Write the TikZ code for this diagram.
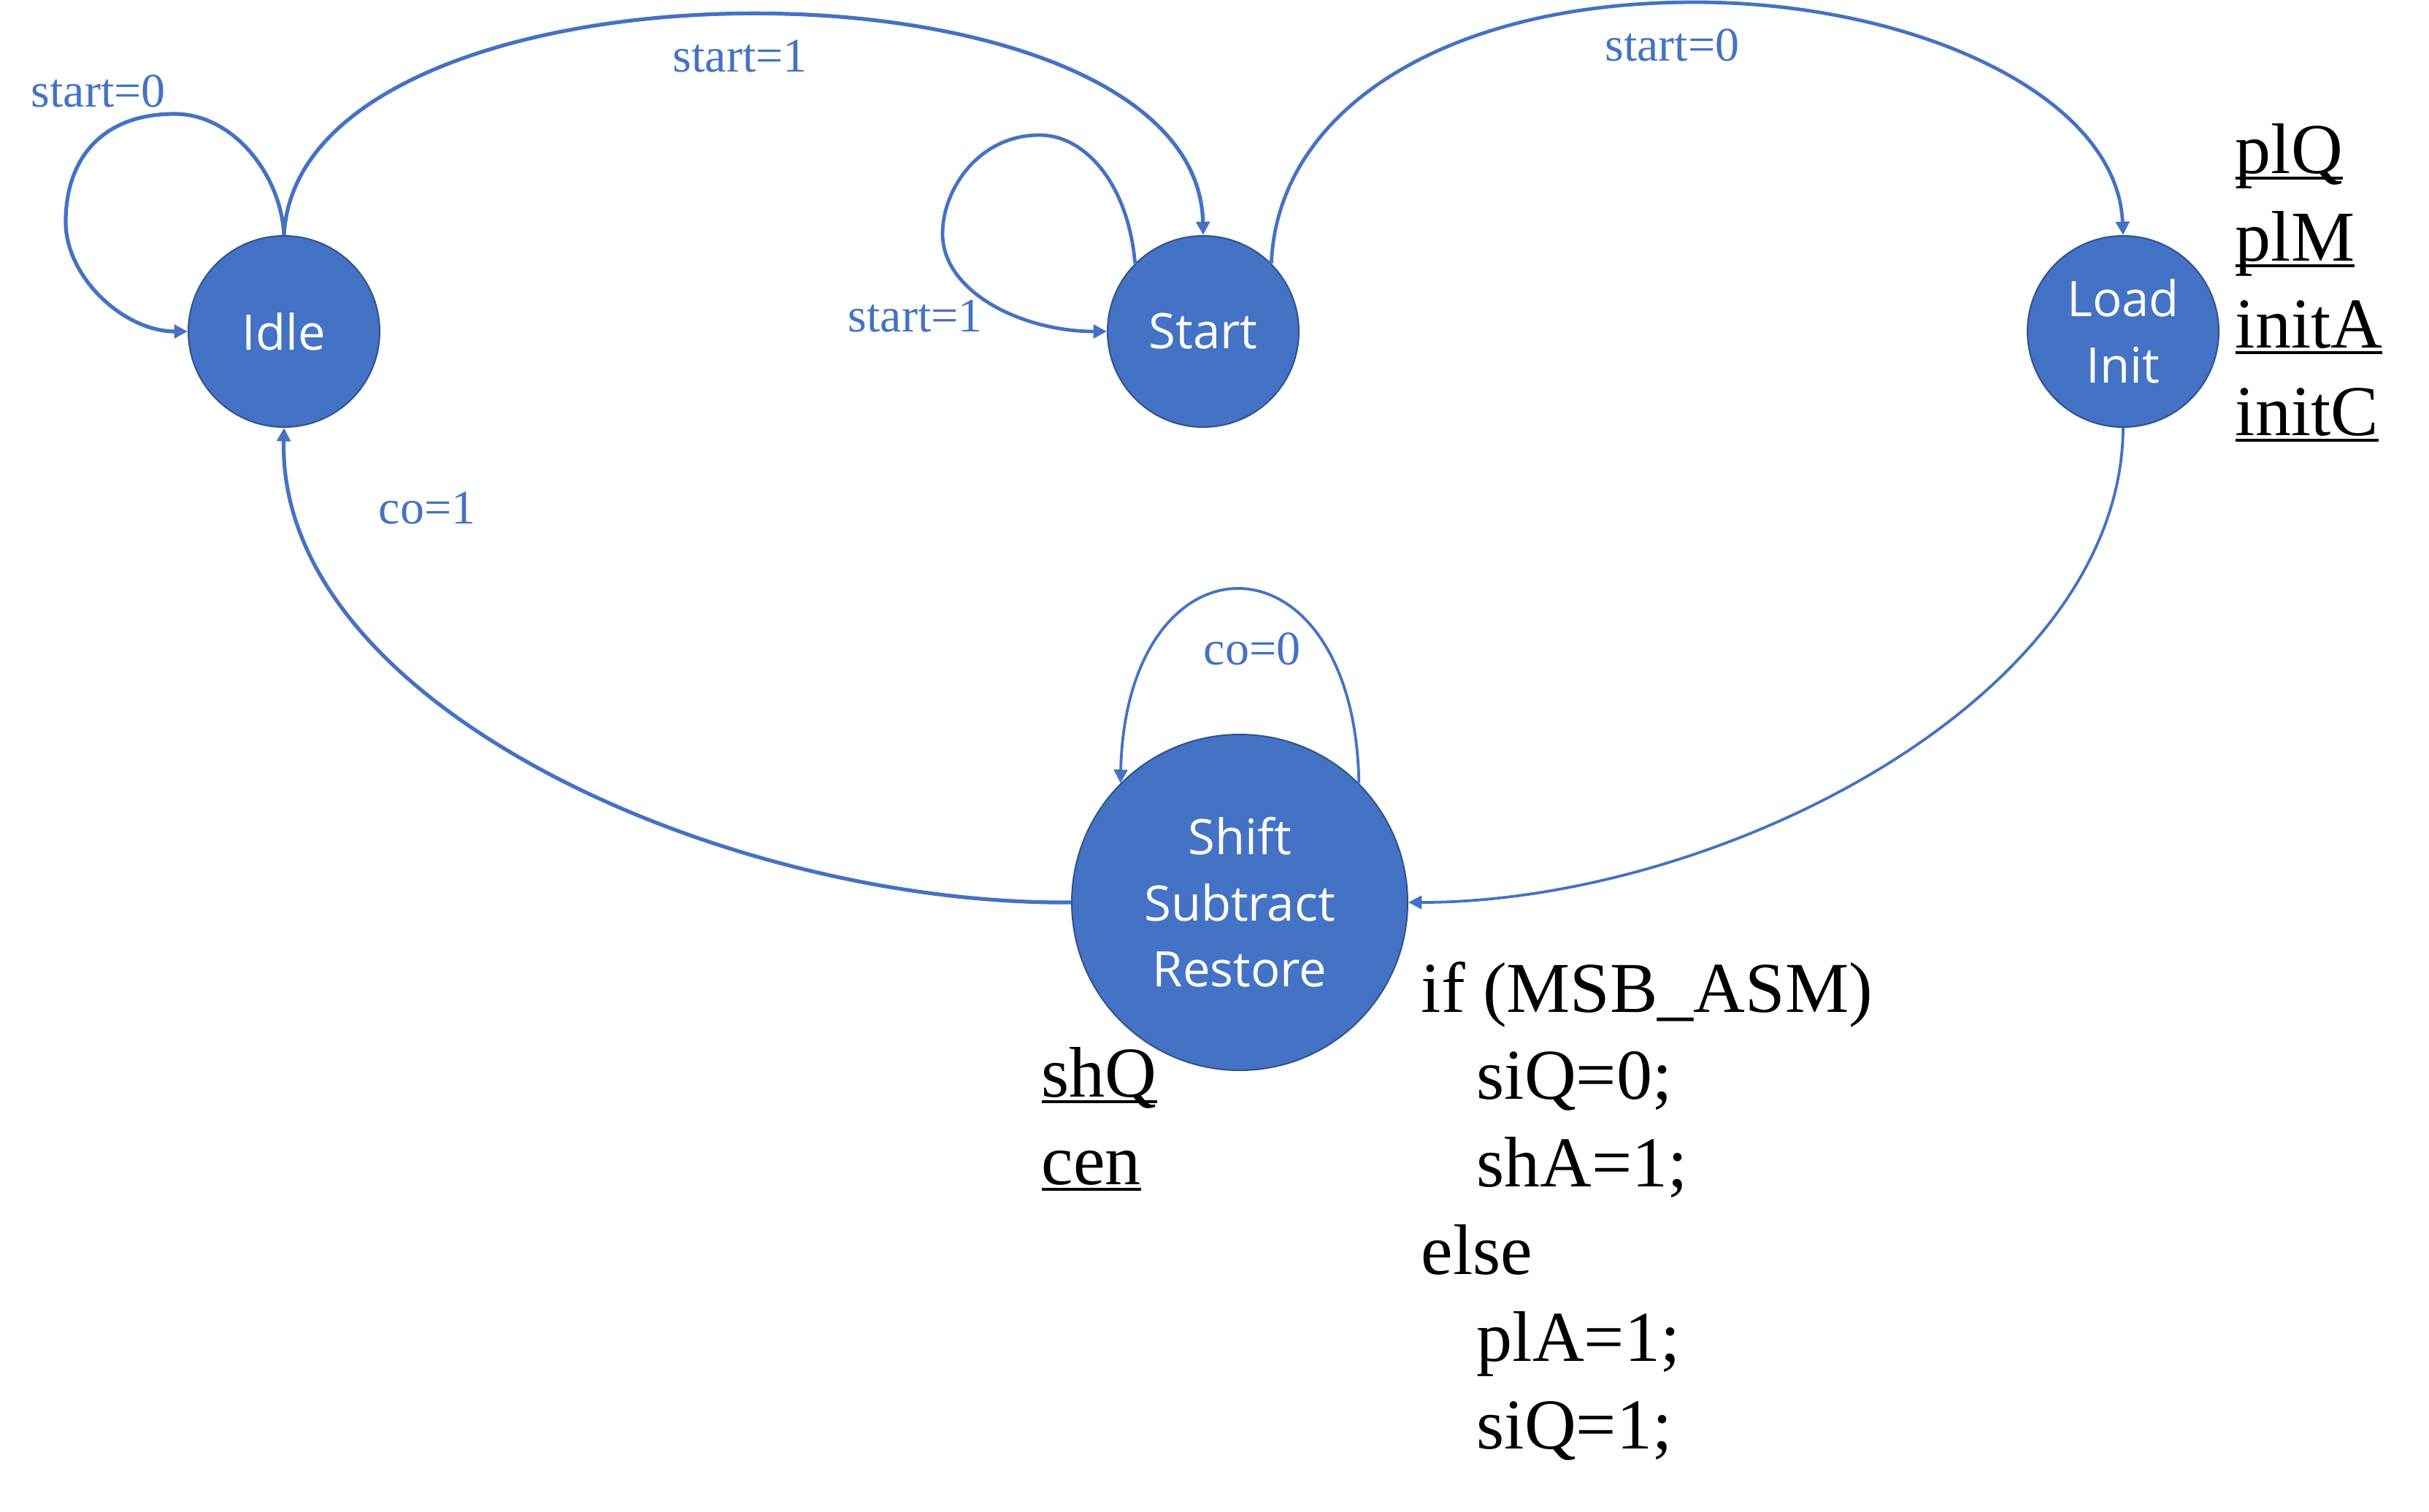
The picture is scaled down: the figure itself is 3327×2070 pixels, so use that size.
\documentclass[tikz,border=0pt]{standalone}
\usepackage{fontspec}
\setmainfont{Liberation Serif}
\newfontfamily\statefont{Open Sans}
\usetikzlibrary{arrows.meta}
\definecolor{ofblue}{HTML}{4472C4}
\definecolor{ofdark}{HTML}{2F528F}
\newcommand\myul[1]{\setbox0\hbox{#1}\rlap{\rule[-2.3pt]{\wd0}{1.1pt}}\box0}
\begin{document}
\begin{tikzpicture}[x=0.25pt,y=-0.25pt,
  state/.style={circle, fill=ofblue, draw=ofdark, line width=0.5pt, inner sep=0pt,
    text=white, font=\statefont\fontsize{16.75}{22.6}\selectfont, align=center},
  edge/.style={draw=ofblue, line width=1.3pt, -{Triangle[length=4.6pt,width=4.6pt]}},
  lbl/.style={text=ofblue, font=\fontsize{16.5}{20}\selectfont, inner sep=0pt, anchor=base west},
  outtxt/.style={font=\fontsize{24.5}{30}\selectfont, inner sep=0pt, anchor=base west}]
\useasboundingbox (0,0) rectangle (3327,2070);

% states
\node[state, minimum size=65.5pt] (idle) at (389,454) {Idle};
\node[state, minimum size=65.5pt] (start) at (1648,454) {Start};
\node[state, minimum size=65.5pt] (load) at (2908,454) {Load\\Init};
\node[state, minimum size=115pt] (shift) at (1698,1236) {Shift\\Subtract\\Restore};

% edges
\draw[edge] (idle.north) .. controls (385,240) and (320,156) .. (239,156)
  .. controls (142,156) and (90,215) .. (90,304)
  .. controls (90,380) and (170,454) .. (idle.west);
\draw[edge] (idle.north) .. controls (410,-80) and (1640,-80) .. (start.north);
\draw[edge, line width=1.2pt] (start.135) .. controls (1545,250) and (1485,185) .. (1424,185)
  .. controls (1340,185) and (1291,260) .. (1291,320)
  .. controls (1291,400) and (1400,454) .. (start.west);
\draw[edge, line width=1.2pt] (start.45) .. controls (1750,150) and (1980,3) .. (2321,3)
  .. controls (2620,3) and (2900,130) .. (load.north);
\draw[edge, line width=0.95pt] (load.south) .. controls (2905,960) and (2350,1236) .. (shift.east);
\draw[edge] (shift.west) .. controls (1000,1240) and (380,970) .. (idle.south);
\draw[edge, line width=0.95pt] (shift.45) .. controls (1855,720) and (1543,720) .. (shift.135);

% edge labels
\node[lbl] (l1) at (42,146) {start=0};
\node[lbl] (l2) at (921,98) {start=1};
\node[lbl] (l3) at (1161,454) {start=1};
\node[lbl, anchor=base east] (l4) at (2383,83) {start=0};
\node[lbl] (l5) at (518,717) {co=1};
\node[lbl] (l6) at (1648,910) {co=0};

% outputs of Load Init
\node[outtxt] (o1) at (3061,237) {\myul{plQ}};
\node[outtxt] (o2) at (3061,357) {\myul{plM}};
\node[outtxt] (o3) at (3061,476) {\myul{initA}};
\node[outtxt] (o4) at (3061,596) {\myul{initC}};

% outputs of Shift Subtract Restore
\node[outtxt] (s1) at (1426,1502) {\myul{shQ}};
\node[outtxt] (s2) at (1426,1622) {\myul{cen}};

\node[outtxt] (c1) at (1946,1386) {if (MSB\_ASM)};
\node[outtxt] (c2) at (2022,1505) {siQ=0;};
\node[outtxt] (c3) at (2022,1625) {shA=1;};
\node[outtxt] (c4) at (1946,1745) {else};
\node[outtxt] (c5) at (2022,1864) {plA=1;};
\node[outtxt] (c6) at (2022,1984) {siQ=1;};
\end{tikzpicture}
\end{document}
